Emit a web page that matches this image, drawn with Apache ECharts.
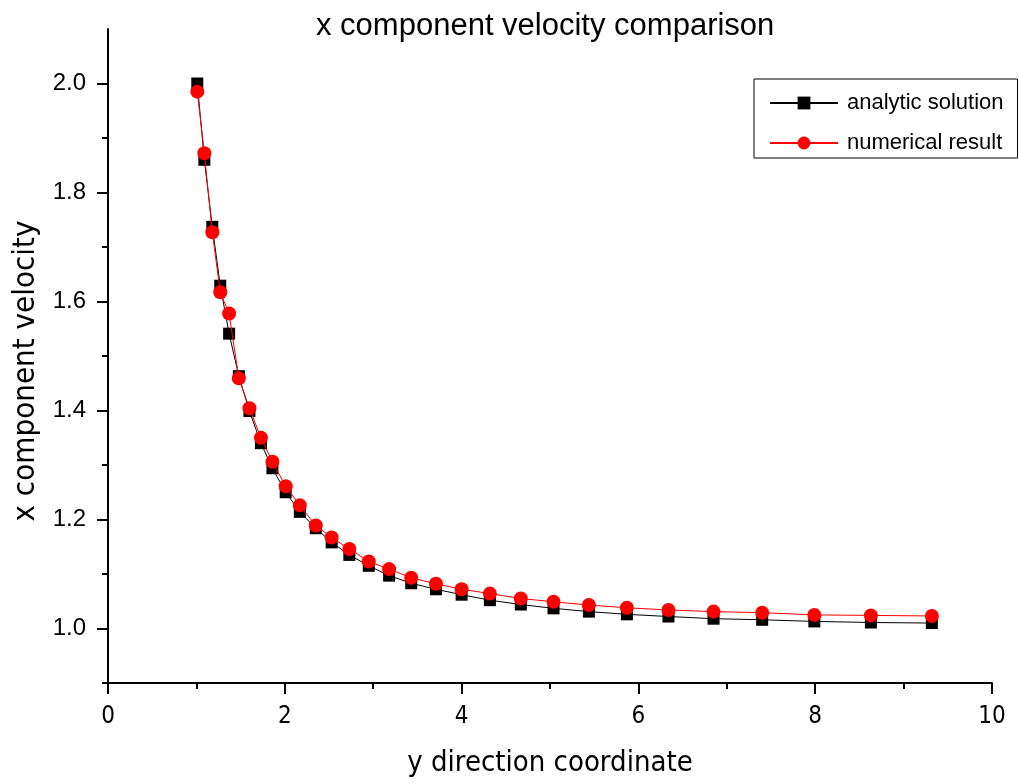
<!DOCTYPE html>
<html>
<head>
<meta charset="utf-8">
<script src="https://cdn.jsdelivr.net/npm/echarts@6/dist/echarts.min.js"></script>
<style>
html,body{margin:0;padding:0;background:#fff;}
#chart{width:1019px;height:783px;}
</style>
</head>
<body>
<div id="chart"></div>
<script>
// y direction coordinate (shared by both series)
var yCoord = [1.01, 1.09, 1.18, 1.27, 1.37, 1.48, 1.60, 1.73, 1.86, 2.01, 2.17, 2.35, 2.53, 2.73, 2.95, 3.18, 3.43, 3.71, 4.00, 4.32, 4.67, 5.04, 5.44, 5.87, 6.34, 6.85, 7.40, 7.99, 8.63, 9.32];
// analytic solution
var analytic = [2.000, 1.860, 1.737, 1.629, 1.541, 1.463, 1.399, 1.340, 1.294, 1.250, 1.214, 1.184, 1.158, 1.135, 1.115, 1.097, 1.083, 1.072, 1.062, 1.052, 1.044, 1.037, 1.031, 1.026, 1.022, 1.018, 1.016, 1.013, 1.011, 1.010];
// numerical result
var numerical = [1.985, 1.872, 1.727, 1.617, 1.578, 1.459, 1.404, 1.350, 1.306, 1.261, 1.226, 1.189, 1.167, 1.146, 1.123, 1.109, 1.093, 1.082, 1.072, 1.064, 1.055, 1.049, 1.043, 1.038, 1.034, 1.031, 1.029, 1.025, 1.024, 1.023];
// tick values
var yMajorTicks = [1.0, 1.2, 1.4, 1.6, 1.8, 2.0];
var yMinorTicks = [0.9, 1.1, 1.3, 1.5, 1.7, 1.9];

var FONT = 'Arial, "Liberation Sans", sans-serif';
var NARROW = '"Liberation Sans Narrow", "Arial Narrow", "DejaVu Sans Condensed", sans-serif';

function pairs(xs, ys) { return xs.map(function (x, i) { return [x, ys[i]]; }); }

var chart = echarts.init(document.getElementById('chart'), null, { renderer: 'canvas' });
chart.setOption({
  animation: false,
  backgroundColor: '#ffffff',
  title: {
    text: 'x component velocity comparison',
    left: 311, top: 6,
    textStyle: { fontFamily: FONT, fontSize: 31, fontWeight: 'normal', color: '#000' }
  },
  legend: {
    orient: 'vertical',
    left: 754, top: 79,
    borderColor: '#000', borderWidth: 1,
    padding: [13, 14, 4, 15],
    itemWidth: 68, itemHeight: 16, itemGap: 18,
    textStyle: { fontFamily: FONT, fontSize: 22, color: '#000', padding: [0, 0, 0, 4] },
    data: ['analytic solution', 'numerical result']
  },
  grid: { left: 108, right: 27, top: 29, bottom: 98, containLabel: false },
  xAxis: {
    type: 'value', min: 0, max: 10, interval: 2,
    name: 'y direction coordinate', nameLocation: 'middle', nameGap: 66,
    nameTextStyle: { fontFamily: NARROW, fontSize: 29, color: '#000' },
    axisLine: { show: true, onZero: false, lineStyle: { color: '#000', width: 2 } },
    axisTick: { show: true, length: 11, lineStyle: { color: '#000', width: 2 } },
    minorTick: { show: true, splitNumber: 2, length: 6, lineStyle: { color: '#000', width: 2 } },
    axisLabel: { fontFamily: NARROW, fontSize: 24, color: '#000', margin: 22 },
    splitLine: { show: false }
  },
  yAxis: [{
    type: 'value', min: 0.9, max: 2.1, position: 'left',
    name: 'x component velocity', nameLocation: 'middle', nameGap: 66, nameRotate: 90,
    nameTextStyle: { fontFamily: NARROW, fontSize: 31, color: '#000', padding: [0, 30, 0, 0] },
    axisLine: { show: true, onZero: false, lineStyle: { color: '#000', width: 2 } },
    axisTick: { show: true, customValues: yMajorTicks, length: 11, lineStyle: { color: '#000', width: 2 } },
    axisLabel: { customValues: yMajorTicks, fontFamily: FONT, fontSize: 24, color: '#000', margin: 22,
      formatter: function (v) { return v.toFixed(1); } },
    splitLine: { show: false }
  }, {
    type: 'value', min: 0.9, max: 2.1, position: 'left', offset: 0,
    axisLine: { show: false },
    axisTick: { show: true, customValues: yMinorTicks, length: 6, lineStyle: { color: '#000', width: 2 } },
    axisLabel: { show: false, customValues: yMinorTicks },
    splitLine: { show: false }
  }],
  series: [{
    name: 'analytic solution', type: 'line', yAxisIndex: 0,
    data: pairs(yCoord, analytic),
    symbol: 'rect', symbolSize: 12,
    itemStyle: { color: '#000000' },
    lineStyle: { color: '#000000', width: 1 },
    z: 2
  }, {
    name: 'numerical result', type: 'line', yAxisIndex: 0,
    data: pairs(yCoord, numerical),
    symbol: 'circle', symbolSize: 14,
    itemStyle: { color: '#ff0000' },
    lineStyle: { color: '#ff0000', width: 1 },
    z: 3
  }]
});
</script>
</body>
</html>
